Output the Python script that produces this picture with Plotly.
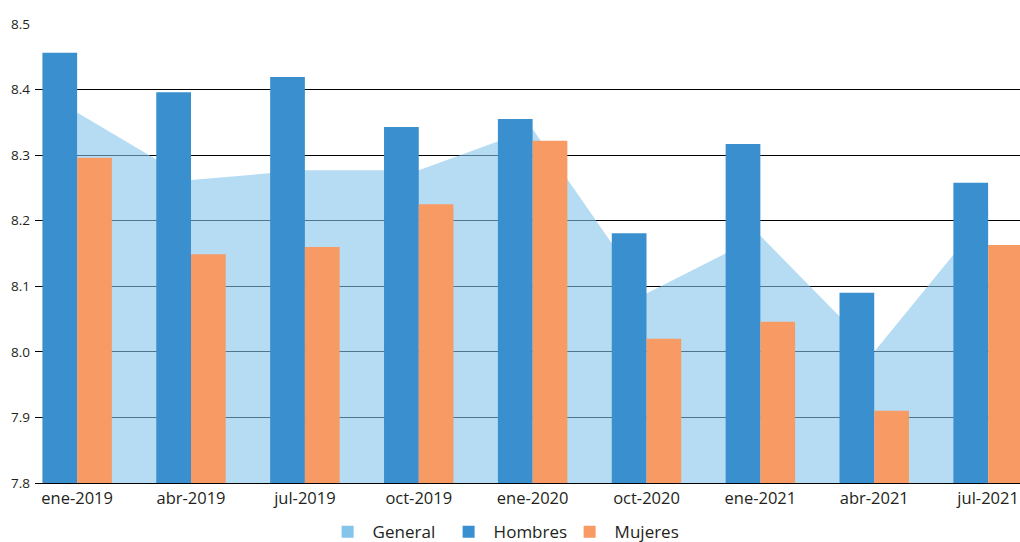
import plotly.graph_objects as go

# Quarterly averages
periodos = ["ene-2019", "abr-2019", "jul-2019", "oct-2019", "ene-2020",
            "oct-2020", "ene-2021", "abr-2021", "jul-2021"]
general = [8.365, 8.262, 8.277, 8.277, 8.340, 8.089, 8.177, 8.000, 8.213]
hombres = [8.456, 8.396, 8.419, 8.343, 8.355, 8.181, 8.317, 8.090, 8.258]
mujeres = [8.296, 8.149, 8.160, 8.225, 8.322, 8.020, 8.046, 7.910, 8.163]
y_ticks = [7.8, 7.9, 8.0, 8.1, 8.2, 8.3, 8.4, 8.5]

C_GENERAL = "#85C5EB"
C_HOMBRES = "#3A8FCE"
C_MUJERES = "#F79A64"
FONT = "Open Sans"
TXT = "#231F20"

x_range = [-0.37, 8.28]
y_range = [7.8, 8.5]

fig = go.Figure()

# legend entry for the shaded area (solid swatch)
fig.add_trace(go.Scatter(
    x=[None], y=[None], name="General", mode="markers",
    marker=dict(symbol="square", size=12, color=C_GENERAL),
    xaxis="x", yaxis="y", hoverinfo="skip"))

# shaded area for the overall average, on the base axes (below the bars)
fig.add_trace(go.Scatter(
    x=periodos, y=general, name="General", mode="lines",
    line=dict(width=0, color=C_GENERAL), fill="tozeroy",
    fillcolor="rgba(133,197,235,0.6)", showlegend=False,
    xaxis="x", yaxis="y"))

# bars on overlaid axes so they sit on top of the area
fig.add_trace(go.Bar(x=periodos, y=hombres, name="Hombres",
                     marker=dict(color=C_HOMBRES, line=dict(width=0)),
                     xaxis="x2", yaxis="y2"))
fig.add_trace(go.Bar(x=periodos, y=mujeres, name="Mujeres",
                     marker=dict(color=C_MUJERES, line=dict(width=0)),
                     xaxis="x2", yaxis="y2"))

fig.update_layout(
    width=1020, height=542,
    margin=dict(l=35, r=0, t=24, b=59, autoexpand=False),
    paper_bgcolor="white", plot_bgcolor="white",
    barmode="group", bargap=0.39, bargroupgap=0,
    font=dict(family=FONT, color=TXT),
    xaxis=dict(type="category", range=x_range, showgrid=False,
               showline=True, linecolor="black", linewidth=1,
               ticks="", tickfont=dict(size=16.5, family=FONT, color=TXT)),
    yaxis=dict(range=y_range, tickvals=y_ticks, tickformat=".1f",
               showgrid=True, gridcolor="black", gridwidth=1,
               zeroline=False, showline=False, ticks="",
               ticklabelstandoff=4,
               tickfont=dict(size=13.5, family=FONT, color=TXT)),
    xaxis2=dict(type="category", range=x_range, overlaying="x",
                showgrid=False, showticklabels=False, showline=False,
                ticks="", matches="x"),
    yaxis2=dict(range=y_range, overlaying="y", showgrid=False,
                showticklabels=False, zeroline=False, showline=False,
                ticks=""),
    legend=dict(orientation="h", x=0.292, xanchor="left",
                y=-0.107, yanchor="middle",
                itemwidth=40,
                entrywidth=66, entrywidthmode="pixels",
                font=dict(size=17, family=FONT, color=TXT),
                traceorder="normal"),
    showlegend=True,
)

fig.write_html("out.html")
